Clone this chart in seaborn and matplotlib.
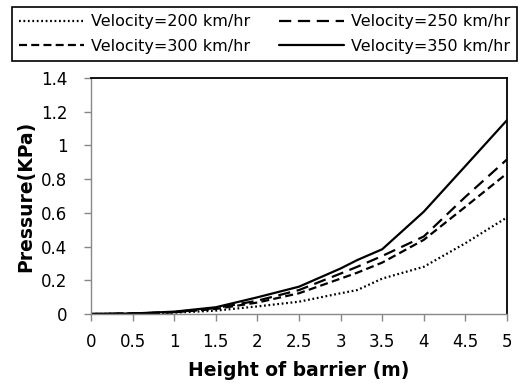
import matplotlib
matplotlib.use("Agg")
import matplotlib.pyplot as plt
import seaborn as sns
import pandas as pd

heights = [0, 0.5, 1, 1.5, 2, 2.5, 3, 3.2, 3.5, 4, 4.5, 5]
p200 = [0, 0.002, 0.008, 0.02, 0.045, 0.073, 0.123, 0.142, 0.21, 0.28, 0.42, 0.573]
p250 = [0, 0.003, 0.011, 0.035, 0.079, 0.142, 0.24, 0.28, 0.344, 0.46, 0.695, 0.917]
p300 = [0, 0.003, 0.01, 0.03, 0.068, 0.123, 0.21, 0.245, 0.305, 0.44, 0.636, 0.834]
p350 = [0, 0.003, 0.014, 0.04, 0.099, 0.162, 0.27, 0.32, 0.384, 0.607, 0.878, 1.15]
labels = ["Velocity=200 km/hr", "Velocity=250 km/hr", "Velocity=300 km/hr", "Velocity=350 km/hr"]
xticks = [0, 0.5, 1, 1.5, 2, 2.5, 3, 3.5, 4, 4.5, 5]
yticks = [0, 0.2, 0.4, 0.6, 0.8, 1, 1.2, 1.4]
ytick_labels = ["0", "0.2", "0.4", "0.6", "0.8", "1", "1.2", "1.4"]

rows = []
for lab, vals in zip(labels, [p200, p250, p300, p350]):
    for h, v in zip(heights, vals):
        rows.append({"Height": h, "Pressure": v, "Series": lab})
df = pd.DataFrame(rows)

sns.set_theme(style="white")
plt.rcParams["font.family"] = ["DejaVu Sans"]
plt.rcParams["text.color"] = "black"
plt.rcParams["axes.labelcolor"] = "black"

fig = plt.figure(figsize=(5.27, 3.87), dpi=100)
ax = fig.add_axes([91/527, 1-314/387, (507-91)/527, (314-78)/387])

dashes = {
    labels[0]: (0.8, 1.2),
    labels[1]: (5.5, 3.0),
    labels[2]: (3.6, 1.9),
    labels[3]: "",
}
sns.lineplot(data=df, x="Height", y="Pressure", hue="Series", style="Series",
             palette=["black"]*4, dashes=dashes, hue_order=labels, style_order=labels,
             ax=ax, legend=False, linewidth=1.6)

handles = ax.get_lines()[:4]
ax.set_xlim(0, 5)
ax.set_ylim(0, 1.4)
ax.set_xticks(xticks)
ax.set_xticklabels([("%g" % t) for t in xticks])
ax.set_yticks(yticks)
ax.set_yticklabels(ytick_labels)
ax.tick_params(axis="both", which="both", direction="out", length=5, width=1,
               color="#888888", labelsize=12, labelcolor="black",
               bottom=True, left=True, top=False, right=False)
ax.tick_params(axis="x", pad=9)
ax.tick_params(axis="y", pad=12)
for s in ["left", "bottom"]:
    ax.spines[s].set_color("#888888")
    ax.spines[s].set_linewidth(1)
for s in ["top", "right"]:
    ax.spines[s].set_color("black")
    ax.spines[s].set_linewidth(1.3)
ax.set_xlabel("Height of barrier (m)", fontsize=13.5, fontweight="bold", labelpad=7,
              color="black")
ax.set_ylabel("Pressure(KPa)", fontsize=13.5, fontweight="bold", labelpad=4,
              color="black")

order = [0, 2, 1, 3]
leg = fig.legend([handles[i] for i in order], [labels[i] for i in order], ncol=2,
                 loc="upper left",
                 bbox_to_anchor=(12/527, 1-7/387),
                 bbox_transform=fig.transFigure,
                 frameon=True, fancybox=False, edgecolor="black", framealpha=1,
                 fontsize=11.5, labelcolor="black",
                 handlelength=4.05, handletextpad=0.44, borderaxespad=0,
                 borderpad=0.45, labelspacing=0.6, columnspacing=1.8)
leg.get_frame().set_linewidth(1.2)

fig.savefig("out.png", dpi=100)
